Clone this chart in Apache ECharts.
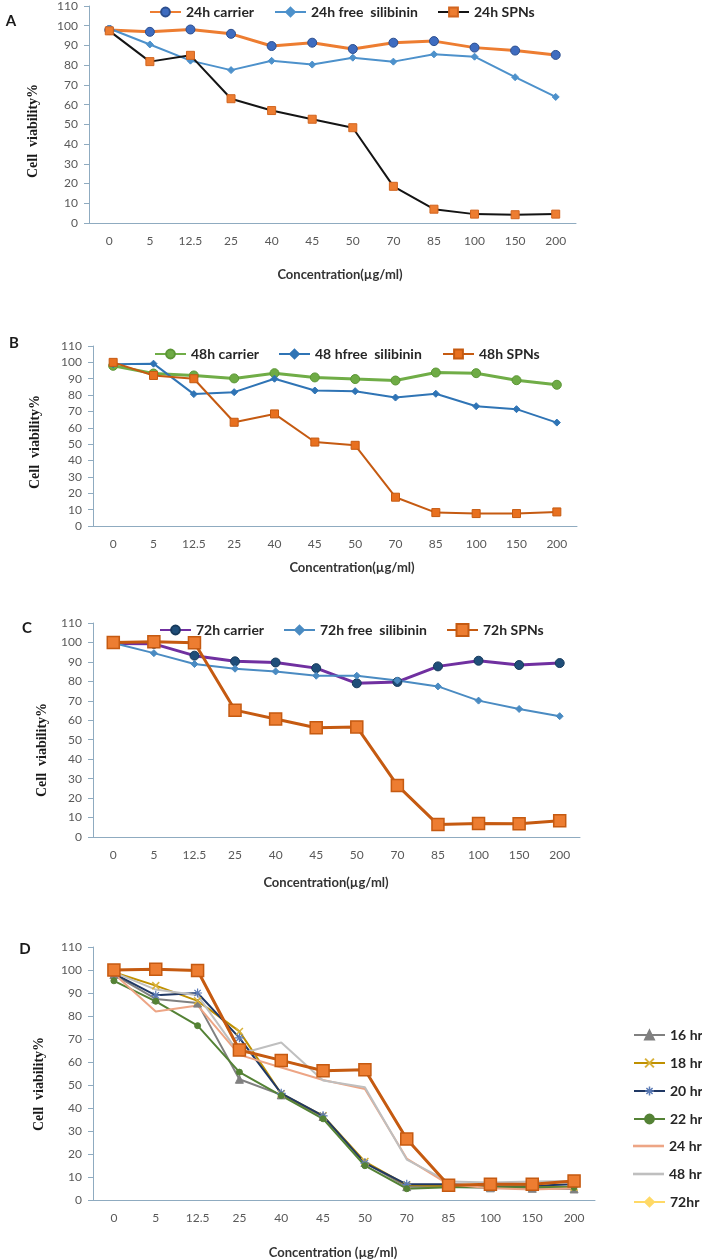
<!DOCTYPE html>
<html>
<head>
<meta charset="utf-8">
<script src="https://cdn.jsdelivr.net/npm/echarts@6/dist/echarts.min.js"></script>
<style>
  html, body { margin: 0; padding: 0; background: #fff; }
  #chart { width: 702px; height: 1260px; }
</style>
</head>
<body>
<div id="chart"></div>
<script>
// concentrations (µg/ml), same for all four panels
const concentrations = ['0', '5', '12.5', '25', '40', '45', '50', '70', '85', '100', '150', '200']

// A - 24h
const carrier24 = [97.8, 96.9, 98.1, 95.9, 89.7, 91.4, 88.2, 91.4, 92.2, 88.9, 87.4, 85.2]
const free24 = [98.6, 90.5, 82.3, 77.5, 82.2, 80.3, 83.8, 81.8, 85.5, 84.3, 73.9, 63.9]
const spns24 = [97.4, 81.8, 85.0, 63.0, 57.0, 52.6, 48.3, 18.6, 7.0, 4.5, 4.2, 4.5]

// B - 48h
const carrier48 = [97.9, 93.2, 92.0, 90.2, 93.4, 90.8, 89.8, 88.9, 93.8, 93.4, 89.1, 86.3]
const free48 = [98.8, 99.2, 80.6, 81.8, 90.0, 82.8, 82.4, 78.5, 80.8, 73.2, 71.4, 63.2]
const spns48 = [100, 92.0, 90.0, 63.4, 68.5, 51.3, 49.3, 17.6, 8.2, 7.6, 7.6, 8.6]

// C - 72h
const carrier72 = [99.5, 99.3, 93.2, 90.3, 89.7, 86.8, 79.0, 79.7, 87.7, 90.6, 88.4, 89.4]
const free72 = [99.7, 94.5, 88.9, 86.5, 85.1, 82.9, 82.9, 80.5, 77.4, 70.1, 65.8, 62.1]
const spns72 = [100, 100.3, 99.8, 65.2, 60.7, 56.2, 56.6, 26.5, 6.4, 6.9, 6.8, 8.3]

// D - SPNs over time
const hr16 = [98.0, 87.4, 85.6, 52.5, 45.7, 36.3, 16.3, 5.8, 5.8, 5.3, 5.1, 4.8]
const hr18 = [99.0, 93.2, 86.6, 73.3, 46.2, 36.6, 16.7, 6.5, 6.1, 6.0, 5.8, 5.6]
const hr20 = [98.4, 89.0, 90.0, 70.5, 46.4, 36.6, 16.0, 6.8, 6.8, 6.2, 6.2, 6.8]
const hr22 = [95.3, 86.4, 75.8, 55.6, 45.4, 35.3, 14.9, 4.9, 5.5, 5.5, 5.5, 5.5]
const hr24 = [98.4, 82.0, 84.6, 63.1, 57.6, 52.2, 48.3, 18.0, 6.8, 5.1, 4.6, 5.1]
const hr48 = [99.0, 91.5, 89.0, 63.5, 68.5, 52.0, 49.0, 17.6, 8.0, 7.6, 8.0, 8.3]
const hr72 = [100, 100.2, 99.8, 65.0, 60.7, 56.3, 56.6, 26.5, 6.4, 6.9, 6.7, 8.3]

const yMin = 0, yMax = 110, yStep = 10

const axisColor = '#8fabc0'
const labelFont = 'Lato, "Open Sans", sans-serif'

// grid boxes for panels A-D
const grids = [
    { left: 89, top: 6, width: 487, height: 217 },
    { left: 93, top: 346, width: 484, height: 180 },
    { left: 93, top: 623, width: 487, height: 214 },
    { left: 93, top: 947, width: 502, height: 253 }
]

const xAxes = []
const yAxes = []
grids.forEach((g, i) => {
    xAxes.push({
        type: 'category', gridIndex: i, data: concentrations, boundaryGap: true,
        axisLine: { lineStyle: { color: axisColor, width: 1 } },
        axisTick: { inside: true, length: 4, lineStyle: { color: axisColor } },
        axisLabel: { color: '#595959', fontFamily: labelFont, fontSize: 12, margin: 12, interval: 0 },
        splitLine: { show: false }
    })
    // second axis only to draw the ticks under each category
    xAxes.push({
        type: 'category', gridIndex: i, data: concentrations, boundaryGap: true,
        position: 'bottom',
        axisLine: { show: false },
        axisTick: { inside: true, length: 4, alignWithLabel: true, lineStyle: { color: axisColor } },
        axisLabel: { show: false },
        splitLine: { show: false }
    })
    yAxes.push({
        type: 'value', gridIndex: i, min: yMin, max: yMax, interval: yStep,
        axisLine: { show: true, lineStyle: { color: axisColor, width: 1 } },
        axisTick: { show: true, length: 5, lineStyle: { color: axisColor } },
        axisLabel: { color: '#595959', fontFamily: labelFont, fontSize: 12, margin: 11 },
        splitLine: { show: false }
    })
})

const line = (name, panel, data, o) => ({
    name, type: 'line', data,
    xAxisIndex: panel * 2, yAxisIndex: panel,
    symbol: o.symbol || 'none', symbolSize: o.size || 7,
    lineStyle: { color: o.line, width: o.width || 2 },
    itemStyle: { color: o.fill || o.line, borderColor: o.border || o.fill || o.line, borderWidth: o.bw || 1 },
    z: o.z || 2, animation: false
})

const asterisk = 'path://M5,0L5,10M0,5L10,5M1.5,1.5L8.5,8.5M8.5,1.5L1.5,8.5'
const cross = 'path://M0,0L10,10M10,0L0,10'
const plainLine = 'path://M0,0L30,0L30,2.5L0,2.5Z'

const series = [
    line('24h carrier', 0, carrier24, { line: '#ED7D31', width: 3, symbol: 'circle', size: 9, fill: '#3e6cc0', border: '#2c4f8f' }),
    line('24h free  silibinin', 0, free24, { line: '#4d91cb', symbol: 'diamond', size: 7 }),
    line('24h SPNs', 0, spns24, { line: '#141414', symbol: 'rect', size: 8, fill: '#ED7D31', border: '#d2651f', z: 3 }),

    line('48h carrier', 1, carrier48, { line: '#70AD47', width: 3, symbol: 'circle', size: 9, fill: '#6eab45', border: '#5c9636' }),
    line('48 hfree  silibinin', 1, free48, { line: '#2f74b5', symbol: 'diamond', size: 7 }),
    line('48h SPNs', 1, spns48, { line: '#C55A11', symbol: 'rect', size: 8, fill: '#e8701f', border: '#c55a11', z: 3 }),

    line('72h carrier', 2, carrier72, { line: '#7030A0', width: 3, symbol: 'circle', size: 9, fill: '#1f4e79', border: '#173a5c' }),
    line('72h free  silibinin', 2, free72, { line: '#4a8bc2', symbol: 'diamond', size: 7 }),
    line('72h SPNs', 2, spns72, { line: '#C55A11', width: 3, symbol: 'rect', size: 12, fill: '#ED7D31', border: '#c55a11', bw: 1.5, z: 3 }),

    line('16 hr', 3, hr16, { line: '#808080', symbol: 'triangle', size: 8 }),
    line('18 hr', 3, hr18, { line: '#BF9000', symbol: cross, size: 7, fill: '#e6c35c', border: '#d9b23a', bw: 1.5 }),
    line('20 hr', 3, hr20, { line: '#203864', symbol: asterisk, size: 9, fill: '#5a7ab5', border: '#5a7ab5', bw: 1.2 }),
    line('22 hr', 3, hr22, { line: '#548235', symbol: 'circle', size: 6 }),
    line('24 hr', 3, hr24, { line: '#eda585' }),
    line('48 hr', 3, hr48, { line: '#bfbfbf' }),
    line('72hr', 3, hr72, { line: '#ffd966', symbol: 'diamond', size: 7 }),
    // 72h SPNs curve drawn on top in panel D (not in its legend)
    line('D 72h SPNs', 3, spns72, { line: '#C55A11', width: 3, symbol: 'rect', size: 12, fill: '#ED7D31', border: '#c55a11', bw: 1.5, z: 4 })
]

const legendText = { fontFamily: labelFont, fontWeight: 'bold', fontSize: 14, color: '#262626', lineHeight: 16 }
const legendItem = (name, left, cy, extra) => Object.assign({
    data: [name], left, top: cy - 8, padding: 0, itemWidth: 31, itemHeight: 11,
    selectedMode: false, textStyle: legendText
}, extra)

const legends = [
    legendItem('24h carrier', 149, 12), legendItem('24h free  silibinin', 274, 12), legendItem('24h SPNs', 437, 12),
    legendItem('48h carrier', 154, 354), legendItem('48 hfree  silibinin', 278, 354), legendItem('48h SPNs', 442, 354),
    legendItem('72h carrier', 159, 630), legendItem('72h free  silibinin', 283, 630), legendItem('72h SPNs', 446, 630, { itemHeight: 15, top: 622 }),
    legendItem('16 hr', 633, 1035), legendItem('18 hr', 633, 1063),
    legendItem('20 hr', 633, 1091, { itemStyle: { borderWidth: 1.5, borderColor: '#5a7ab5' } }),
    legendItem('22 hr', 633, 1119),
    legendItem('24 hr', 633, 1146, { icon: plainLine, itemStyle: { borderWidth: 0 } }),
    legendItem('48 hr', 633, 1174, { icon: plainLine, itemStyle: { borderWidth: 0 } }),
    legendItem('72hr', 633, 1202)
]

const txt = (text, x, y, style, rot) => ({
    type: 'text', x, y, rotation: rot || 0,
    style: Object.assign({ text, textAlign: 'center', textVerticalAlign: 'middle', fill: '#262626' }, style)
})
const letterStyle = { font: 'bold 15px Lato, sans-serif', fill: '#1a1a1a' }
const yNameStyle = { font: 'bold 14px "Liberation Serif", serif', fill: '#1a1a1a' }
const xNameStyle = { font: 'bold 13px Lato, sans-serif', fill: '#333' }

const graphics = [
    txt('A', 11, 21, letterStyle), txt('B', 14, 343, letterStyle),
    txt('C', 27, 628, letterStyle), txt('D', 25, 949, letterStyle),
    txt('Cell  viability%', 33, 131, yNameStyle, Math.PI / 2),
    txt('Cell  viability%', 35, 442, yNameStyle, Math.PI / 2),
    txt('Cell  viability%', 42, 750, yNameStyle, Math.PI / 2),
    txt('Cell  viability%', 39, 1084, yNameStyle, Math.PI / 2),
    txt('Concentration(µg/ml)', 340, 275, xNameStyle),
    txt('Concentration(µg/ml)', 352, 568, xNameStyle),
    txt('Concentration(µg/ml)', 326, 883, xNameStyle),
    txt('Concentration (µg/ml)', 333, 1253, xNameStyle)
]

const chart = echarts.init(document.getElementById('chart'), null, { renderer: 'canvas' })
chart.setOption({
    backgroundColor: '#fff',
    animation: false,
    grid: grids,
    xAxis: xAxes,
    yAxis: yAxes,
    legend: legends,
    series,
    graphic: graphics
})
</script>
</body>
</html>
